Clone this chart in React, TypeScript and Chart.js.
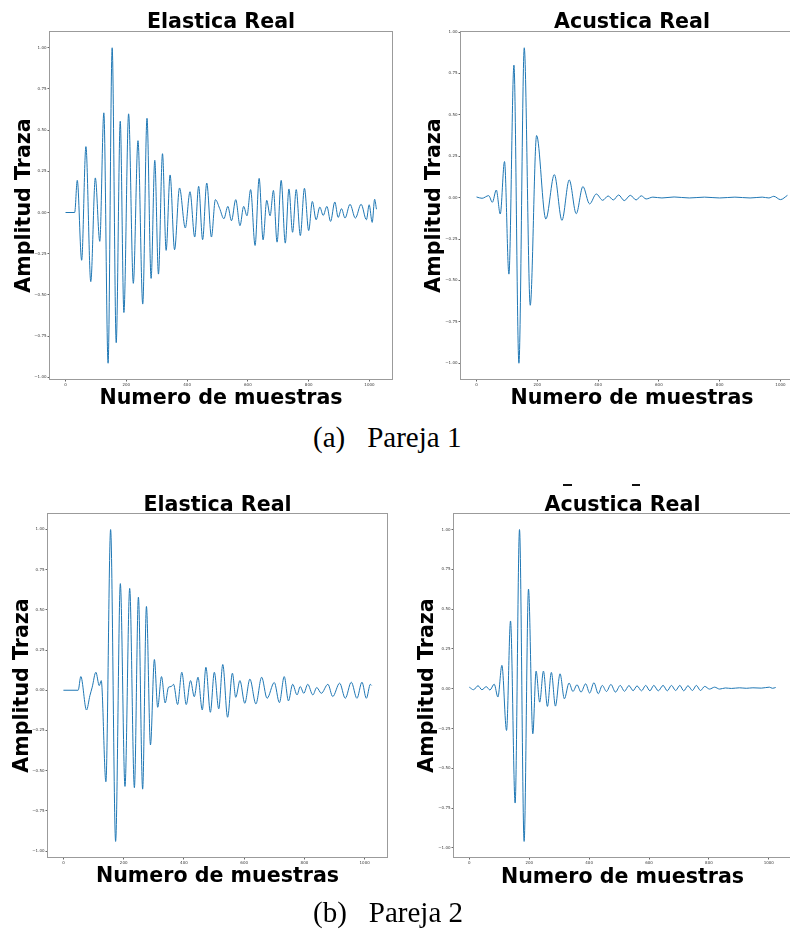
import React, { useEffect, useRef } from "react";
import { Chart, registerables } from "chart.js";

Chart.register(...registerables);

// Ejes comunes
const N_MUESTRAS = 1024;
const X_TICKS = [0, 200, 400, 600, 800, 1000];
const Y_TICKS = [-1, -0.75, -0.5, -0.25, 0, 0.25, 0.5, 0.75, 1];

// Pareja 1 — traza elástica (muestra, amplitud) en sus extremos
const P1_ELASTICA_X = [0, 30, 38.6, 53, 67, 83, 98, 112.6, 126, 140, 153.4, 166.7, 180, 192, 207.5, 223, 238.4, 254, 268, 281.5, 293.6, 305.7, 319, 331, 344, 358.7, 375, 394, 409.5, 425, 438, 451, 464.6, 480, 493, 507, 521, 534, 546, 560, 574, 586, 597, 609, 623.6, 637, 650, 662, 673, 684, 696, 709.5, 723, 735, 747, 759, 772.5, 786, 800, 812, 824.5, 836.7, 847.7, 860, 872, 886, 897, 908, 919.5, 936, 953.6, 972.5, 990, 999, 1009, 1017, 1023];
const P1_ELASTICA_Y = [0, 0, 0.195, -0.29, 0.4, -0.42, 0.21, -0.175, 0.605, -0.915, 1.0, -0.79, 0.554, -0.607, 0.599, -0.43, 0.436, -0.556, 0.572, -0.4, 0.317, -0.374, 0.357, -0.23, 0.228, -0.226, 0.149, -0.094, 0.126, -0.149, 0.159, -0.165, 0.179, -0.149, 0.078, 0.025, -0.038, 0.037, -0.05, 0.078, -0.08, 0.037, -0.02, 0.139, -0.2, 0.207, -0.166, 0.074, -0.02, 0.134, -0.18, 0.195, -0.186, 0.143, -0.12, 0.139, -0.14, 0.147, -0.11, 0.067, -0.044, 0.033, -0.018, 0.037, -0.054, 0.064, -0.03, 0.023, -0.034, 0.05, -0.034, 0.05, -0.044, 0.047, -0.06, 0.08, 0.02];

// Pareja 1 — traza acústica
const P1_ACUSTICA_X = [0, 18, 40, 52, 65, 78, 92, 106.5, 123, 139.4, 157, 176.7, 197.6, 228, 256, 281, 305, 328, 350, 372, 394, 415, 433, 450, 467.6, 486, 506, 525, 542, 558, 580, 610, 650, 700, 750, 800, 850, 900, 940, 962, 978, 1000, 1023];
const P1_ACUSTICA_Y = [0.004, -0.004, 0.012, -0.028, 0.046, -0.099, 0.218, -0.462, 0.8, -1.0, 0.905, -0.65, 0.375, -0.129, 0.139, -0.137, 0.107, -0.097, 0.067, -0.038, 0.022, -0.016, 0.01, -0.014, 0.016, -0.018, 0.014, -0.014, 0.011, -0.008, 0.003, -0.002, 0.004, -0.002, 0.003, -0.002, 0.003, -0.002, 0.003, -0.002, 0.008, -0.012, 0.014];

// Pareja 2 — traza elástica
const P2_ELASTICA_X = [0, 49, 57.8, 76.7, 88, 95.6, 107.8, 119, 125.6, 141, 156.7, 173.3, 189, 204.4, 220, 235.6, 249, 263, 275.6, 289, 302, 313, 325.6, 337.8, 349, 358, 365.6, 379, 393, 407.8, 422, 434.4, 446.7, 461, 473, 487.8, 501, 515.6, 529, 545, 561, 572, 586, 602, 619, 639, 658, 676, 700, 717, 733, 747, 761, 775.6, 786, 798, 811, 828, 841, 856, 878, 894, 917, 935.6, 955.6, 974.4, 991, 1005.6, 1019, 1023];
const P2_ELASTICA_Y = [0, 0, 0.085, -0.123, -0.033, 0.019, 0.112, 0.029, 0.06, -0.569, 0.999, -0.94, 0.663, -0.598, 0.633, -0.606, 0.579, -0.615, 0.521, -0.34, 0.191, -0.106, 0.085, -0.079, 0.019, 0.023, 0.037, -0.089, 0.112, -0.089, 0.06, -0.04, 0.081, -0.123, 0.143, -0.137, 0.112, -0.116, 0.16, -0.168, 0.106, -0.044, 0.06, -0.081, 0.069, -0.085, 0.081, -0.05, 0.048, -0.077, 0.085, -0.066, 0.037, -0.029, 0.023, -0.019, 0.037, -0.029, 0.017, -0.019, 0.037, -0.039, 0.044, -0.05, 0.05, -0.05, 0.05, -0.05, 0.037, 0.03];

// Pareja 2 — traza acústica
const P2_ACUSTICA_X = [0, 14, 29, 42, 56.6, 68.8, 83, 95.5, 108.8, 124.3, 137.6, 153, 167.6, 183, 197.6, 212, 223, 235, 247.5, 260.8, 274, 287.5, 303, 317.4, 333, 346, 359.6, 373, 388.5, 401.8, 416, 430.6, 444, 458, 472.8, 488, 504, 518, 533, 547, 560, 575, 589, 603, 616, 631, 647, 661, 675, 689, 703, 716, 730, 745, 758, 772, 786, 802, 819, 836, 855, 875, 902, 925, 947, 975, 1002, 1012, 1023];
const P2_ACUSTICA_Y = [0.01, -0.006, 0.019, -0.006, 0.013, -0.008, 0.029, -0.052, 0.147, -0.262, 0.426, -0.718, 1.0, -0.959, 0.626, -0.283, 0.111, -0.084, 0.111, -0.111, 0.103, -0.109, 0.094, -0.063, 0.036, -0.017, 0.025, -0.021, 0.031, -0.027, 0.038, -0.031, 0.021, -0.017, 0.027, -0.021, 0.021, -0.016, 0.02, -0.012, 0.018, -0.013, 0.021, -0.013, 0.021, -0.013, 0.021, -0.013, 0.021, -0.011, 0.021, -0.013, 0.019, -0.011, 0.021, -0.011, 0.015, -0.002, 0.01, -0.002, 0.005, 0.002, 0.006, 0.003, 0.006, 0.004, 0.01, 0.003, 0.008];

const TITULO_ELASTICA = "Elastica Real";
const TITULO_ACUSTICA = "Acustica Real";
const ETIQUETA_X = "Numero de muestras";
const ETIQUETA_Y = "Amplitud Traza";
const SUBFIGURA_ETIQUETAS = ["(a)", "(b)"];
const SUBFIGURA_TEXTOS = ["Pareja 1", "Pareja 2"];

const LINE_COLOR = "#1f77b4";
const SANS = '"DejaVu Sans", "Liberation Sans", sans-serif';
const SERIF = '"Liberation Serif", "DejaVu Serif", serif';
const LABEL_SIZE = 20.6;

type Box = { left: number; top: number; width: number; height: number };
type Area = { left: number; top: number; right: number; bottom: number };
type PanelSpec = {
  title: string;
  xs: number[];
  ys: number[];
  canvas: Box; // page position of the canvas
  area: Area; // page position of the axes frame
  titleBase: number; // page y of title baseline
  xLabelBase: number; // page y of x-label baseline
  yLabelBase: number; // page x of rotated y-label baseline
  dashes?: { x: number; y: number; w: number; h: number }[];
};

const PANELS: PanelSpec[] = [
  {
    title: TITULO_ELASTICA,
    xs: P1_ELASTICA_X,
    ys: P1_ELASTICA_Y,
    canvas: { left: 0, top: 0, width: 400, height: 420 },
    area: { left: 50, top: 32, right: 392, bottom: 379 },
    titleBase: 28,
    xLabelBase: 403.5,
    yLabelBase: 29.5,
  },
  {
    title: TITULO_ACUSTICA,
    xs: P1_ACUSTICA_X,
    ys: P1_ACUSTICA_Y,
    canvas: { left: 400, top: 0, width: 420, height: 420 },
    area: { left: 461, top: 32, right: 803, bottom: 379 },
    titleBase: 28,
    xLabelBase: 403.5,
    yLabelBase: 440,
  },
  {
    title: TITULO_ELASTICA,
    xs: P2_ELASTICA_X,
    ys: P2_ELASTICA_Y,
    canvas: { left: 0, top: 470, width: 400, height: 430 },
    area: { left: 48, top: 514, right: 387, bottom: 857 },
    titleBase: 511,
    xLabelBase: 882,
    yLabelBase: 27.7,
  },
  {
    title: TITULO_ACUSTICA,
    xs: P2_ACUSTICA_X,
    ys: P2_ACUSTICA_Y,
    canvas: { left: 400, top: 470, width: 420, height: 430 },
    area: { left: 454, top: 514, right: 791, bottom: 857 },
    titleBase: 511,
    xLabelBase: 882.5,
    yLabelBase: 432.7,
    dashes: [
      { x: 563, y: 484, w: 9, h: 2 },
      { x: 632, y: 484, w: 8, h: 2 },
    ],
  },
];

const fmtY = (v: number) => (v < 0 ? "\u2212" : "") + Math.abs(v).toFixed(2);

function TracePanel({ spec }: { spec: PanelSpec }) {
  const ref = useRef<HTMLCanvasElement | null>(null);

  useEffect(() => {
    const canvas = ref.current;
    if (!canvas) return;
    const { canvas: box, area } = spec;
    const points = spec.xs.map((x, i) => ({ x, y: spec.ys[i] }));

    // 5 % margins around the data, as in the usual autoscaled plot
    const lo = Math.min(...spec.ys);
    const hi = Math.max(...spec.ys);
    const yPad = (hi - lo) * 0.05;
    const xPad = (N_MUESTRAS - 1) * 0.05;

    const framePlugin = {
      id: "frameAndLabels",
      afterDraw(chart: any) {
        const ctx = chart.ctx as CanvasRenderingContext2D;
        const ca = chart.chartArea;
        ctx.save();
        ctx.strokeStyle = "#9b9b9b";
        ctx.lineWidth = 1;
        ctx.strokeRect(Math.round(ca.left) - 0.5, Math.round(ca.top) - 0.5, Math.round(ca.right - ca.left) + 1, Math.round(ca.bottom - ca.top) + 1);

        const cx = (ca.left + ca.right) / 2;
        const cy = (ca.top + ca.bottom) / 2;
        ctx.fillStyle = "#000";
        ctx.font = `bold ${LABEL_SIZE}px ${SANS}`;
        ctx.textAlign = "center";
        ctx.textBaseline = "alphabetic";
        ctx.fillText(spec.title, cx, spec.titleBase - box.top);
        ctx.fillText(ETIQUETA_X, cx, spec.xLabelBase - box.top);
        ctx.translate(spec.yLabelBase - box.left, cy);
        ctx.rotate(-Math.PI / 2);
        ctx.fillText(ETIQUETA_Y, 0, 0);
        ctx.restore();

        if (spec.dashes) {
          ctx.save();
          ctx.fillStyle = "#111";
          for (const d of spec.dashes) ctx.fillRect(d.x - box.left, d.y - box.top, d.w, d.h);
          ctx.restore();
        }
      },
    };

    const tickFont = { size: 4, family: SANS };

    const chart = new Chart(canvas, {
      type: "line",
      data: {
        datasets: [
          {
            data: points,
            borderColor: LINE_COLOR,
            borderWidth: 1,
            pointRadius: 0,
            fill: false,
            cubicInterpolationMode: "monotone",
          },
        ],
      },
      options: {
        animation: false,
        responsive: false,
        maintainAspectRatio: false,
        devicePixelRatio: 1,
        events: [],
        layout: {
          padding: {
            left: 0,
            top: area.top - box.top,
            right: box.left + box.width - area.right,
            bottom: 0,
          },
        },
        plugins: {
          legend: { display: false },
          tooltip: { enabled: false },
          title: { display: false },
        },
        scales: {
          x: {
            type: "linear",
            min: -xPad,
            max: N_MUESTRAS - 1 + xPad,
            afterBuildTicks: (axis: any) => {
              axis.ticks = X_TICKS.map((value) => ({ value }));
            },
            afterFit: (scale: any) => {
              scale.height = box.top + box.height - area.bottom;
            },
            ticks: {
              font: tickFont,
              color: "#3a3a3a",
              padding: 1,
              maxRotation: 0,
              autoSkip: false,
              callback: (v: any) => String(v),
            },
            grid: { drawOnChartArea: false, drawTicks: true, tickLength: 2.5, color: "#666" },
            border: { display: false },
          },
          y: {
            type: "linear",
            min: lo - yPad,
            max: hi + yPad,
            afterBuildTicks: (axis: any) => {
              axis.ticks = Y_TICKS.map((value) => ({ value }));
            },
            afterFit: (scale: any) => {
              scale.width = area.left - box.left;
            },
            ticks: {
              font: tickFont,
              color: "#3a3a3a",
              padding: 1,
              autoSkip: false,
              callback: (v: any) => fmtY(Number(v)),
            },
            grid: { drawOnChartArea: false, drawTicks: true, tickLength: 2.5, color: "#666" },
            border: { display: false },
          },
        },
      } as any,
      plugins: [framePlugin],
    });

    return () => chart.destroy();
  }, [spec]);

  const b = spec.canvas;
  return (
    <canvas
      ref={ref}
      width={b.width}
      height={b.height}
      style={{ position: "absolute", left: b.left, top: b.top, width: b.width, height: b.height }}
    />
  );
}

export default function App() {
  return (
    <div
      style={{
        position: "absolute",
        left: 0,
        top: 0,
        width: 790,
        height: 932,
        overflow: "hidden",
        background: "#fff",
      }}
    >
      {PANELS.map((p, i) => (
        <TracePanel key={i} spec={p} />
      ))}
      {SUBFIGURA_ETIQUETAS.map((lab, i) => (
        <div
          key={lab}
          style={{
            position: "absolute",
            left: 313,
            top: i === 0 ? 423 : 898,
            fontFamily: SERIF,
            fontSize: 29,
            lineHeight: "29px",
            whiteSpace: "nowrap",
            color: "#000",
          }}
        >
          <span>{lab}</span>
          <span style={{ marginLeft: 22 }}>{SUBFIGURA_TEXTOS[i]}</span>
        </div>
      ))}
    </div>
  );
}
